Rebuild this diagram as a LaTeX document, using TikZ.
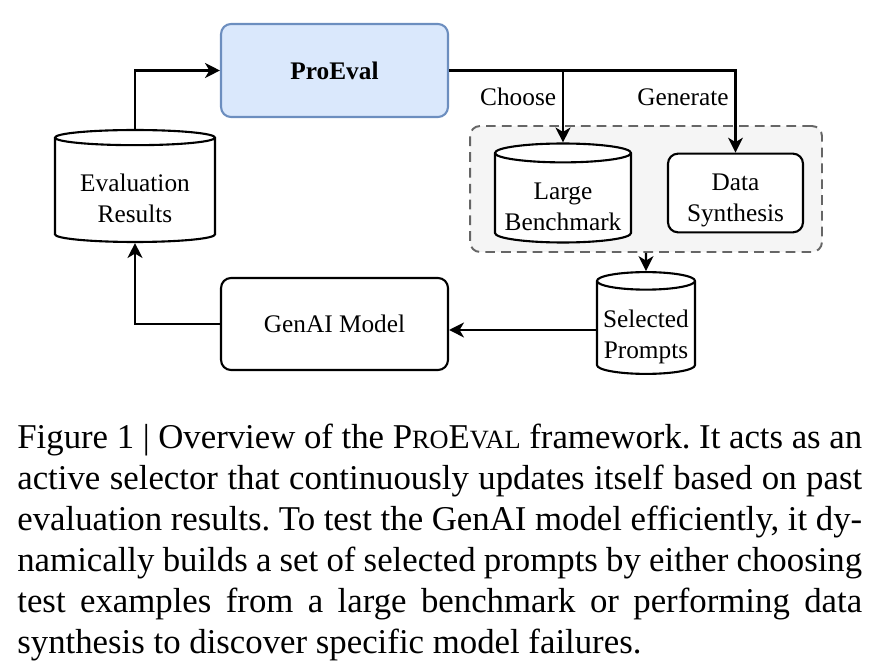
\documentclass[tikz,border=0pt]{standalone}
\usepackage{fontspec}
\setmainfont{Liberation Serif}
\usepackage{tikz}
\usetikzlibrary{positioning}
\usetikzlibrary{shapes.geometric}
\usetikzlibrary{arrows.meta}

\definecolor{boxblue}{HTML}{DAE8FC}
\definecolor{edgeblue}{HTML}{6C8EBF}
\definecolor{groupgray}{HTML}{F5F5F5}
\definecolor{dashgray}{HTML}{666666}

\newcommand{\diafont}{\fontsize{14.4}{17.6}\selectfont}
\newcommand{\capfont}{\fontsize{19.8}{23.3}\selectfont\frenchspacing}
\newcommand{\proevalsc}{P{\fontsize{15}{16}\selectfont RO}E{\fontsize{15}{16}\selectfont VAL}}
\newcommand{\lowline}{\rule{0pt}{17.4pt}}

\tikzset{
	store/.style={cylinder, shape border rotate=90, draw, very thick, fill=white, anchor=shape center, align=center}
}

\begin{document}
\begin{tikzpicture}[x=0.02cm, y=-0.02cm, font=\diafont, >={Stealth[length=8.5pt,width=8.5pt,inset=2.5pt]}]
				\useasboundingbox (0,0) rectangle (883,672);
				
				\node[rounded corners=0.2cm, draw=edgeblue, fill=boxblue, very thick, minimum width=4.54cm, minimum height=1.86cm, font=\diafont\bfseries] (P) at (334.5,70.5) {ProEval};
				\node[store, aspect=0.125, minimum width=3.2cm, minimum height=2.24cm] (R) at (135,186) {\lowline Evaluation\\Results};
				\node[draw, very thick, rounded corners=0.2cm, minimum width=4.54cm, minimum height=1.84cm] (G) at (334.5,324) {GenAI Model};
				
				\node[draw=dashgray, fill=groupgray, line width=1.1pt, dash pattern=on 5.5pt off 3.5pt, rounded corners=0.2cm, minimum width=7.04cm, minimum height=2.52cm] (Q) at (646,189) {};
				\node[store, aspect=0.147, minimum width=2.72cm, minimum height=1.92cm] (B) at (563,193) {\lowline Large\\Benchmark};
				\node[draw, very thick, fill=white, rounded corners=0.2cm, minimum width=2.7cm, minimum height=1.56cm, align=center] (D) at (735.5,193) {\lowline Data\\Synthesis};
				\node[store, aspect=0.18, minimum width=1.96cm, minimum height=1.8cm] (S) at (646,323) {\lowline Selected\\Prompts};
				
				\draw[very thick, ->]  (R.north) |- (P.west);
				\draw[very thick, ->]  (P.east) -| (D.north) node[pos=0.66,left] {Generate};
				\draw[very thick, ->]  (B.north |- P.east) -- (B.north) node[pos=0.37,left] {Choose};
				\draw[very thick, ->]  (Q.south) -- (S.north);
				\draw[very thick, ->]  (S.west) -- (S.west -| G.east);
				\draw[very thick, ->]  (G.west) -| (R.south);
				
				\node[anchor=north west, inner sep=0pt, align=left, font=\capfont] (C) at (17,424) {%
					\makebox[16.9cm][s]{Figure 1 | Overview of the \proevalsc{} framework. It acts as an}\\
					\makebox[16.9cm][s]{active selector that continuously updates itself based on past}\\
					\makebox[16.9cm][s]{evaluation results. To test the GenAI model efficiently, it dy-}\\
					\makebox[16.9cm][s]{namically builds a set of selected prompts by either choosing}\\
					\makebox[16.9cm][s]{test examples from a large benchmark or performing data}\\
					synthesis to discover specific model failures.};
			\end{tikzpicture}
\end{document}
